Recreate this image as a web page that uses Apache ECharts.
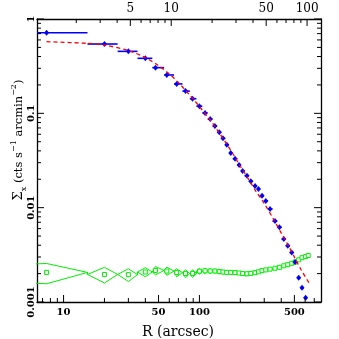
<!DOCTYPE html>
<html><head><meta charset="utf-8">
<script src="https://cdn.jsdelivr.net/npm/echarts@6/dist/echarts.min.js"></script>
<style>html,body{margin:0;padding:0;background:#fff}#c{width:339px;height:339px}</style>
</head><body><div id="c"></div>
<script>
// ---- data ----
const rMid = [7.5, 20, 30, 40, 47.5, 57.5, 68, 79, 89, 100, 110, 120, 130, 140, 149, 159, 170, 183, 196, 208, 224, 239, 257, 272, 289, 308, 331, 360, 388, 418, 447, 478, 506, 538, 569, 605, 632];
const rLo = [0.1, 15, 25, 35, 45, 55, 65, 75, 85, 95, 105, 115, 125, 135, 145, 155, 165, 176, 190, 202, 215, 231, 248, 265, 280, 298, 320, 345, 374, 403, 432, 462, 492, 522, 553, 587, 618];
const rHi = [15, 25, 35, 45, 55, 65, 75, 85, 95, 105, 115, 125, 135, 145, 155, 165, 176, 190, 202, 215, 231, 248, 265, 280, 298, 320, 345, 374, 403, 432, 462, 492, 522, 553, 587, 618, 646];
const srcSB = [0.716, 0.543, 0.454, 0.383, 0.305, 0.255, 0.205, 0.172, 0.143, 0.119, 0.101, 0.087, 0.0733, 0.0629, 0.0543, 0.0465, 0.0380, 0.0330, 0.0283, 0.0245, 0.0218, 0.0190, 0.0170, 0.0158, 0.0134, 0.0118, 0.0097, 0.0072, 0.0062, 0.00465, 0.00395, 0.00335, 0.00265, 0.00181, 0.00142, 0.00111, null];
const bkgSB = [0.00206, 0.00196, 0.00195, 0.00208, 0.00216, 0.00213, 0.00205, 0.00200, 0.00201, 0.00212, 0.00214, 0.00213, 0.00213, 0.00210, 0.00208, 0.00206, 0.00206, 0.00205, 0.00203, 0.00200, 0.00199, 0.00201, 0.00205, 0.00209, 0.00215, 0.00219, 0.00223, 0.00228, 0.00233, 0.00242, 0.00249, 0.00257, 0.00265, 0.00280, 0.00295, 0.00303, 0.00311];
const bkgErr = [0.00050, 0.00037, 0.00030, 0.00023, 0.00022, 0.00021, 0.00020, 0.00019, 0.00019, 0.00016, 0.00015, 0.00014, 0.00013, 0.00013, 0.00012, 0.00012, 0.00011, 0.00010, 0.00010, 0.00009, 0.00009, 0.00008, 0.00008, 0.00008, 0.00007, 0.00007, 0.00007, 0.00007, 0.00007, 0.00007, 0.00007, 0.00007, 0.00007, 0.00007, 0.00008, 0.00008, 0.00008];
const modelR  = [7.5, 15, 20, 30, 40, 50, 60, 70, 80, 90, 100, 120, 140, 160, 180, 200, 230, 260, 300, 350, 400, 450, 500, 560, 640];
const modelSB = [0.575, 0.552, 0.530, 0.462, 0.390, 0.320, 0.262, 0.212, 0.172, 0.142, 0.118, 0.085, 0.062, 0.0465, 0.0355, 0.0275, 0.020, 0.0150, 0.0111, 0.0076, 0.0054, 0.0040, 0.0030, 0.0022, 0.0016];

// axis ranges and ticks
const X_MIN = 6.375, X_MAX = 785, Y_MIN = 0.001, Y_MAX = 1;
const xTickLabels = [10, 50, 100, 500];
const xTickMinor = [7, 8, 9, 20, 30, 40, 60, 70, 80, 90, 200, 300, 400, 600, 700];
const yTickLabels = [1, 0.1, 0.01, 0.001];
const yTickText = ['1', '0.1', '0.01', '0.001'];
const yTickMinor = [0.2,0.3,0.4,0.5,0.6,0.7,0.8,0.9, 0.02,0.03,0.04,0.05,0.06,0.07,0.08,0.09, 0.002,0.003,0.004,0.005,0.006,0.007,0.008,0.009];
const topTickLabels = [5, 10, 50, 100];
const topTickMinor = [2, 3, 4, 6, 7, 8, 9, 20, 30, 40, 60, 70, 80, 90];
const arcsecPerTopUnit = 6.2;

// ---- derived ----
const envUpper = [], envLower = [];
rMid.forEach((r, i) => {
  envUpper.push([rLo[i], bkgSB[i]], [r, bkgSB[i] + bkgErr[i]], [rHi[i], bkgSB[i]]);
  envLower.push([rLo[i], bkgSB[i]], [r, bkgSB[i] - bkgErr[i]], [rHi[i], bkgSB[i]]);
});
const srcPts = [], srcBins = [];
rMid.forEach((r, i) => { if (srcSB[i] != null) { srcPts.push([r, srcSB[i]]); srcBins.push([r, srcSB[i], rLo[i], rHi[i]]); } });
const bkgPts = rMid.map((r, i) => [r, bkgSB[i]]);
const modelPts = modelR.map((r, i) => [r, modelSB[i]]);

const BLUE = '#0000ff', GREEN = '#00ee00', RED = '#ff0000';
const FONT_B = 'bold 10px "DejaVu Serif"';
const FONT_T = '12px "DejaVu Serif"';

function txt(t, x, y, font, rot) {
  return { type: 'text', x: x, y: y, rotation: rot || 0,
    style: { text: t, font: font, fill: '#000', align: 'center', verticalAlign: 'middle', textAlign: 'center', textVerticalAlign: 'middle' } };
}
function seg(x1, y1, x2, y2) {
  return { type: 'line', shape: { x1: x1, y1: y1, x2: x2, y2: y2 }, style: { stroke: '#000', lineWidth: 1 } };
}

function renderAxes(params, api) {
  const ch = [];
  const MAJ = 7, MIN = 4;
  xTickLabels.forEach(v => {
    const p = api.coord([v, Y_MIN]);
    ch.push(seg(p[0], p[1], p[0], p[1] - MAJ));
    ch.push(txt(String(v), p[0], p[1] + 10, FONT_B));
  });
  xTickMinor.forEach(v => { const p = api.coord([v, Y_MIN]); ch.push(seg(p[0], p[1], p[0], p[1] - MIN)); });
  topTickLabels.forEach(v => {
    const p = api.coord([v * arcsecPerTopUnit, Y_MAX]);
    ch.push(seg(p[0], p[1], p[0], p[1] + MAJ));
    ch.push(txt(String(v), p[0], p[1] - 10, FONT_T));
  });
  topTickMinor.forEach(v => { const p = api.coord([v * arcsecPerTopUnit, Y_MAX]); ch.push(seg(p[0], p[1], p[0], p[1] + MIN)); });
  yTickLabels.forEach((v, i) => {
    const l = api.coord([X_MIN, v]), r = api.coord([X_MAX, v]);
    ch.push(seg(l[0], l[1], l[0] + MAJ, l[1]));
    ch.push(seg(r[0], r[1], r[0] - MAJ, r[1]));
    ch.push(txt(yTickText[i], l[0] - 6, l[1], FONT_B, Math.PI / 2));
  });
  yTickMinor.forEach(v => {
    const l = api.coord([X_MIN, v]), r = api.coord([X_MAX, v]);
    ch.push(seg(l[0], l[1], l[0] + MIN, l[1]));
    ch.push(seg(r[0], r[1], r[0] - MIN, r[1]));
  });
  return { type: 'group', children: ch };
}

const axisCommon = {
  type: 'log', logBase: 10,
  axisLine: { show: true, onZero: false, lineStyle: { color: '#000', width: 1.3 } },
  axisTick: { show: false }, axisLabel: { show: false }, splitLine: { show: false },
  minorTick: { show: false }, minorSplitLine: { show: false }
};

const chart = echarts.init(document.getElementById('c'), null, { renderer: 'canvas' });
chart.setOption({
  animation: false,
  backgroundColor: '#fff',
  grid: { left: 37, right: 18, top: 19, bottom: 37, containLabel: false, outerBoundsMode: 'none' },
  xAxis: [
    Object.assign({}, axisCommon, { min: X_MIN, max: X_MAX, position: 'bottom' }),
    Object.assign({}, axisCommon, { min: X_MIN, max: X_MAX, position: 'top' })
  ],
  yAxis: [
    Object.assign({}, axisCommon, { min: Y_MIN, max: Y_MAX, position: 'left' }),
    Object.assign({}, axisCommon, { min: Y_MIN, max: Y_MAX, position: 'right' })
  ],
  graphic: [
    { type: 'text', x: 178, y: 332, style: { text: 'R (arcsec)', font: '14px "DejaVu Serif"', fill: '#000', align: 'center', verticalAlign: 'middle', textAlign: 'center', textVerticalAlign: 'middle' } },
    { type: 'text', x: 19, y: 140, rotation: Math.PI / 2,
      style: {
        text: '{s|Σ}{b|x}{n| (cts s}{p|−1}{n| arcmin}{p|−2}{n|)}',
        align: 'center', verticalAlign: 'middle', textAlign: 'center', textVerticalAlign: 'middle',
        rich: {
          s: { font: '13px "DejaVu Serif"', fill: '#000', color: '#000', lineHeight: 18, verticalAlign: 'middle' },
          n: { font: '11.5px "DejaVu Serif"', fill: '#000', color: '#000', lineHeight: 18, verticalAlign: 'middle' },
          b: { font: '8px "DejaVu Serif"', fill: '#000', color: '#000', lineHeight: 18, verticalAlign: 'bottom' },
          p: { font: '8px "DejaVu Serif"', fill: '#000', color: '#000', lineHeight: 18, verticalAlign: 'top' }
        }
      } }
  ],
  series: [
    { type: 'line', data: envUpper, symbol: 'none', lineStyle: { color: GREEN, width: 1 }, silent: true, z: 2 },
    { type: 'line', data: envLower, symbol: 'none', lineStyle: { color: GREEN, width: 1 }, silent: true, z: 2 },
    { type: 'scatter', data: bkgPts, symbol: 'rect', symbolSize: 4,
      itemStyle: { color: '#fff', borderColor: GREEN, borderWidth: 1, opacity: 1 }, z: 3 },
    { type: 'custom', data: srcBins, encode: { x: 0, y: 1 }, z: 4,
      renderItem: function (params, api) {
        const y = api.value(1);
        const a = api.coord([Math.max(api.value(2), X_MIN), y]);
        const b = api.coord([Math.min(api.value(3), X_MAX), y]);
        return { type: 'line', shape: { x1: a[0], y1: a[1], x2: b[0], y2: b[1] }, style: { stroke: BLUE, lineWidth: 1.6 } };
      } },
    { type: 'scatter', data: srcPts, symbol: 'diamond', symbolSize: [5, 6], itemStyle: { color: BLUE, opacity: 1 }, z: 5 },
    { type: 'line', data: modelPts, symbol: 'none', smooth: 0.3, lineStyle: { color: RED, width: 1.3, type: [4, 3] }, z: 6 },
    { type: 'custom', data: [[10, 0.01]], renderItem: renderAxes, silent: true, z: 10 }
  ]
});
</script></body></html>
